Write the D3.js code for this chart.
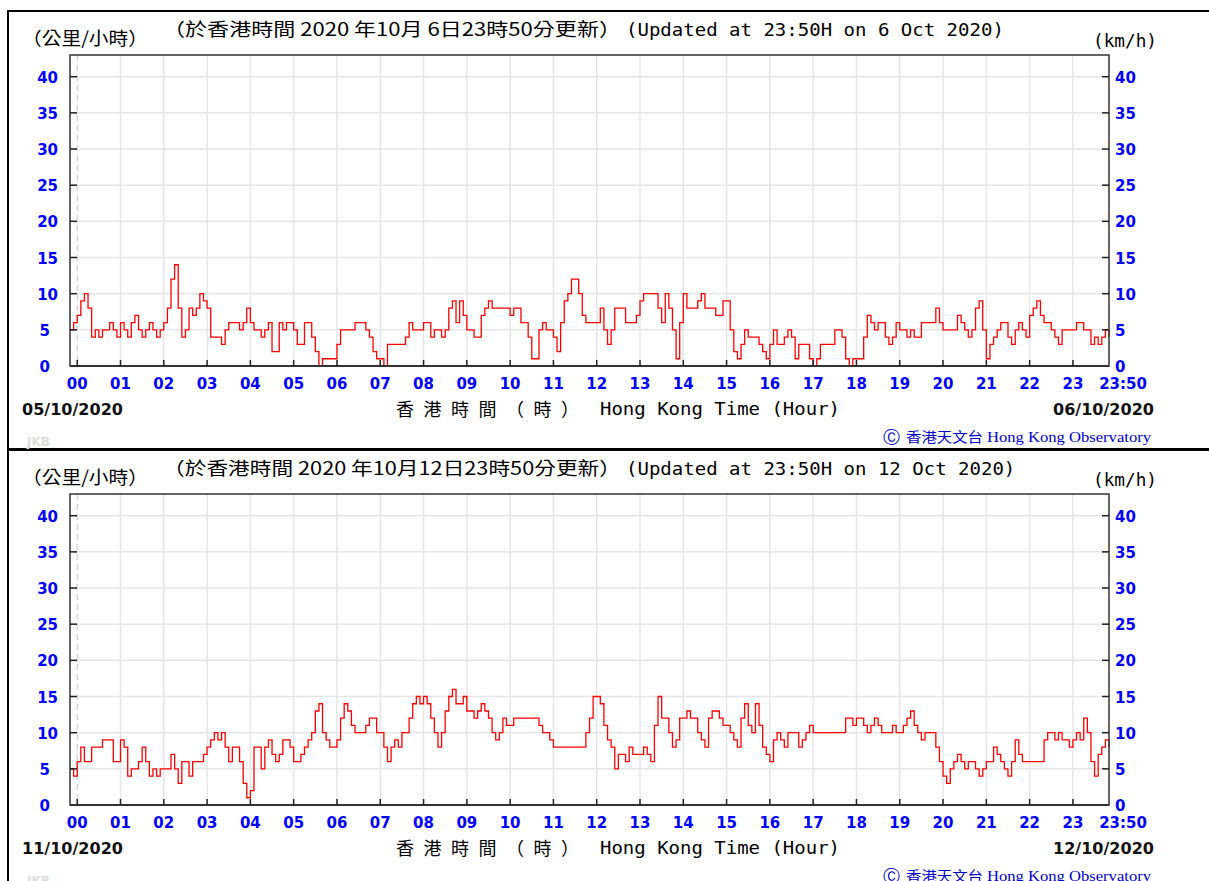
<!DOCTYPE html>
<html>
<head>
<meta charset="utf-8">
<script src="https://cdn.jsdelivr.net/npm/d3@7"></script>
<style>
  body { margin: 0; background: #fff; }
</style>
</head>
<body>
<div id="chart"></div>
<script>
const width = 1209, height = 881;

// tick labels
const hourLabels = ["00","01","02","03","04","05","06","07","08","09","10","11",
                    "12","13","14","15","16","17","18","19","20","21","22","23"];
const endLabel = "23:50";
const yTicks = [0, 5, 10, 15, 20, 25, 30, 35, 40];

// 5-minute wind speed (km/h), first value at 23:50 of the previous day
const speedOct6 = [
  5, 6, 7, 9,10, 8, 4, 5, 4, 5,   5, 6, 5, 4, 6, 5, 4, 6, 7, 5,
  4, 5, 6, 5, 4, 5, 6, 8,12,14,   8, 4, 5, 8, 7, 8,10, 9, 8, 4,
  4, 4, 3, 5, 6, 6, 6, 5, 6, 8,   6, 5, 5, 4, 5, 6, 2, 2, 6, 5,
  6, 6, 5, 3, 3, 6, 6, 4, 2, 0,   1, 1, 1, 1, 3, 5, 5, 5, 5, 6,
  6, 6, 5, 4, 2, 1, 1, 0, 3, 3,   3, 3, 3, 4, 6, 5, 5, 5, 6, 6,
  4, 5, 5, 4, 5, 8, 9, 6, 9, 7,   5, 5, 4, 4, 7, 8, 9, 8, 8, 8,
  8, 8, 7, 8, 8, 6, 6, 4, 1, 1,   5, 6, 5, 5, 4, 2, 6, 9,10,12,
 12,10, 7, 6, 6, 6, 6, 8, 5, 3,   5, 8, 8, 8, 6, 6, 6, 7, 9,10,
 10,10,10, 8, 6,10, 8, 5, 1, 6,  10, 8, 8, 8, 9,10, 8, 8, 8, 7,
  7, 9, 9, 5, 2, 1, 3, 5, 4, 4,   4, 3, 2, 1, 3, 5, 3, 3, 4, 5,
  4, 1, 3, 3, 3, 1, 0, 1, 3, 3,   3, 3, 5, 5, 4, 1, 0, 1, 1, 1,
  4, 7, 6, 5, 6, 6, 4, 3, 4, 6,   5, 5, 4, 5, 4, 4, 6, 6, 6, 6,
  8, 6, 5, 5, 5, 5, 7, 6, 5, 4,   5, 8, 9, 5, 1, 3, 4, 5, 6, 6,
  4, 3, 5, 6, 5, 4, 7, 8, 9, 7,   6, 6, 5, 4, 3, 5, 5, 5, 5, 6,
  6, 5, 5, 3, 4, 3, 4, 5, 4
];
const speedOct12 = [
  5, 4, 6, 8, 6, 6, 8, 8, 8, 9,   9, 9, 6, 6, 9, 8, 4, 5, 5, 6,
  8, 6, 4, 5, 4, 5, 5, 5, 7, 5,   3, 6, 6, 4, 6, 6, 6, 7, 8, 9,
 10, 9,10, 8, 6, 8, 8, 6, 3, 1,   2, 8, 8, 5, 8, 9, 7, 6, 7, 9,
  9, 8, 6, 6, 7, 8, 9,10,13,14,  10, 9, 8, 8, 9,12,14,13,11,10,
 10,10,11,12,12,10,10, 8, 6, 8,   9, 8,10,10,12,14,15,14,15,14,
 12,10, 8,10,13,15,16,14,14,15,  13,13,12,13,14,13,12,10, 9,10,
 12,11,11,12,12,12,12,12,12,12,  11,10,10, 9, 8, 8, 8, 8, 8, 8,
  8, 8, 8,10,12,15,15,14,11, 9,   8, 5, 7, 7, 6, 8, 7, 7, 7, 8,
  7, 6,11,15,12,12,10, 8, 9,12,  12,13,12,12,10, 9, 8,12,13,13,
 12,11,11,10, 9, 8,12,14,11,10,  14,11, 8, 7, 6, 9,10, 9, 8,10,
 10,10, 8, 9,10,11,10,10,10,10,  10,10,10,10,10,12,12,11,12,12,
 11,10,11,12,11,10,10,10,11,10,  10,11,12,13,11,10, 9,10,10,10,
  8, 6, 4, 3, 5, 6, 7, 6, 5, 6,   6, 5, 4, 5, 6, 6, 8, 7, 6, 5,
  4, 6, 9, 7, 6, 6, 6, 6, 6, 6,   9,10,10, 9,10, 9, 9, 8, 9,10,
  9,12,10, 6, 4, 7, 8, 9, 8
];

const panels = [
  {offset: 0, values: speedOct6,
   cnTitle: "（於香港時間 2020 年10月 6日23時50分更新）",
   enTitle: "(Updated at 23:50H on 6 Oct 2020)",
   startDate: "05/10/2020", endDate: "06/10/2020"},
  {offset: 439, values: speedOct12,
   cnTitle: "（於香港時間 2020 年10月12日23時50分更新）",
   enTitle: "(Updated at 23:50H on 12 Oct 2020)",
   startDate: "11/10/2020", endDate: "12/10/2020"}
];

const blue = "#0000ff";
const boldFont = "'DejaVu Sans', Verdana, sans-serif";
const cjkFont = "'Noto Sans CJK TC', 'Noto Sans CJK SC', sans-serif";
const monoFont = "'DejaVu Sans Mono', 'Liberation Mono', monospace";

const svg = d3.select("#chart").append("svg")
  .attr("width", width)
  .attr("height", height)
  .style("display", "block");

svg.append("rect").attr("width", width).attr("height", height).attr("fill", "#fff");

// minutes from midnight, plot starts at 23:50 of the previous day
const x = d3.scaleLinear().domain([-10, 1430]).range([70, 1109]);
const y = d3.scaleLinear().domain([0, 43]).range([366, 55]);

function drawPanel(p) {
  const g = svg.append("g").attr("transform", `translate(0,${p.offset})`);

  // outer frame
  g.append("rect")
    .attr("x", 8).attr("y", 11)
    .attr("width", 1230).attr("height", 438)
    .attr("fill", "none").attr("stroke", "#000").attr("stroke-width", 2);

  // grid
  g.append("g").selectAll("line")
    .data(yTicks.filter(d => d > 0))
    .join("line")
      .attr("x1", x.range()[0]).attr("x2", x.range()[1])
      .attr("y1", d => y(d)).attr("y2", d => y(d))
      .attr("stroke", "#e6e6e6").attr("stroke-width", 1.5);

  g.append("g").selectAll("line")
    .data(d3.range(1, 24))
    .join("line")
      .attr("x1", d => x(d * 60)).attr("x2", d => x(d * 60))
      .attr("y1", y.range()[1]).attr("y2", y.range()[0])
      .attr("stroke", "#e6e6e6").attr("stroke-width", 1.5);

  // midnight marker
  g.append("line")
    .attr("x1", x(0)).attr("x2", x(0))
    .attr("y1", y.range()[1]).attr("y2", y.range()[0])
    .attr("stroke", "#d0d0d0").attr("stroke-width", 1.2)
    .attr("stroke-dasharray", "6,4");

  // wind line
  const pts = p.values.map((v, i) => [-10 + i * 5, v]);
  g.append("path")
    .datum(pts)
    .attr("fill", "none")
    .attr("stroke", "#ff0000")
    .attr("stroke-width", 1.3)
    .attr("d", d3.line()
      .x(d => x(d[0]))
      .y(d => y(d[1]))
      .curve(d3.curveStepAfter));

  // plot frame
  g.append("rect")
    .attr("x", x.range()[0]).attr("y", y.range()[1])
    .attr("width", x.range()[1] - x.range()[0])
    .attr("height", y.range()[0] - y.range()[1])
    .attr("fill", "none").attr("stroke", "#333").attr("stroke-width", 1.5);
  g.append("line")
    .attr("x1", x.range()[0]).attr("x2", x.range()[1])
    .attr("y1", y(0)).attr("y2", y(0))
    .attr("stroke", "#333").attr("stroke-width", 2.2);

  // tick marks (inside)
  g.append("g").selectAll("line")
    .data(d3.range(0, 24))
    .join("line")
      .attr("x1", d => x(d * 60)).attr("x2", d => x(d * 60))
      .attr("y1", y(0)).attr("y2", y(0) - 6)
      .attr("stroke", "#222").attr("stroke-width", 1.5);
  g.append("g").selectAll("line")
    .data(yTicks.filter(d => d > 0))
    .join("line")
      .attr("x1", x.range()[0]).attr("x2", x.range()[0] + 7)
      .attr("y1", d => y(d)).attr("y2", d => y(d))
      .attr("stroke", "#222").attr("stroke-width", 1.5);
  g.append("g").selectAll("line")
    .data(yTicks.filter(d => d > 0))
    .join("line")
      .attr("x1", x.range()[1] - 7).attr("x2", x.range()[1])
      .attr("y1", d => y(d)).attr("y2", d => y(d))
      .attr("stroke", "#222").attr("stroke-width", 1.5);

  // y labels
  g.append("g").selectAll("text")
    .data(yTicks)
    .join("text")
      .attr("x", d => d >= 10 ? 58 : 50)
      .attr("y", d => y(d) + 6)
      .attr("text-anchor", "end")
      .attr("font-family", boldFont).attr("font-weight", "bold")
      .attr("font-size", 15).attr("fill", blue)
      .text(d => d);
  g.append("g").selectAll("text")
    .data(yTicks)
    .join("text")
      .attr("x", 1115)
      .attr("y", d => y(d) + 6)
      .attr("font-family", boldFont).attr("font-weight", "bold")
      .attr("font-size", 15).attr("fill", blue)
      .text(d => d);

  // x labels
  g.append("g").selectAll("text")
    .data(hourLabels)
    .join("text")
      .attr("x", (d, i) => x(i * 60))
      .attr("y", 389)
      .attr("text-anchor", "middle")
      .attr("font-family", boldFont).attr("font-weight", "bold")
      .attr("font-size", 15).attr("fill", blue)
      .text(d => d);
  g.append("text")
    .attr("x", x(1430) + 14).attr("y", 389)
    .attr("text-anchor", "middle")
    .attr("font-family", boldFont).attr("font-weight", "bold")
    .attr("font-size", 15).attr("fill", blue)
    .text(endLabel);

  // titles
  g.append("text")
    .attr("x", 22).attr("y", 45)
    .attr("font-family", cjkFont).attr("font-size", 18)
    .attr("textLength", 126).attr("lengthAdjust", "spacingAndGlyphs")
    .text("（公里/小時）");
  g.append("text")
    .attr("x", 163).attr("y", 36)
    .attr("font-family", cjkFont).attr("font-size", 18)
    .attr("textLength", 458).attr("lengthAdjust", "spacingAndGlyphs")
    .text(p.cnTitle);
  g.append("text")
    .attr("x", 626).attr("y", 36)
    .attr("font-family", monoFont).attr("font-size", 17)
    .attr("textLength", p.enTitle.length * 11.45).attr("lengthAdjust", "spacingAndGlyphs")
    .text(p.enTitle);
  g.append("text")
    .attr("x", 1093).attr("y", 47)
    .attr("font-family", monoFont).attr("font-size", 17)
    .attr("textLength", 64).attr("lengthAdjust", "spacingAndGlyphs")
    .text("(km/h)");

  // axis title
  g.append("text")
    .attr("x", 396).attr("y", 416)
    .attr("font-family", cjkFont).attr("font-size", 18)
    .attr("textLength", 183).attr("lengthAdjust", "spacing")
    .text("香港時間（時）");
  g.append("text")
    .attr("x", 600).attr("y", 415)
    .attr("font-family", monoFont).attr("font-size", 17)
    .attr("textLength", 240).attr("lengthAdjust", "spacingAndGlyphs")
    .text("Hong Kong Time (Hour)");

  // dates
  g.append("text")
    .attr("x", 22).attr("y", 415)
    .attr("font-family", boldFont).attr("font-weight", "bold")
    .attr("font-size", 15.5).attr("fill", "#111")
    .attr("textLength", 101).attr("lengthAdjust", "spacingAndGlyphs")
    .text(p.startDate);
  g.append("text")
    .attr("x", 1053).attr("y", 415)
    .attr("font-family", boldFont).attr("font-weight", "bold")
    .attr("font-size", 15.5).attr("fill", "#111")
    .attr("textLength", 101).attr("lengthAdjust", "spacingAndGlyphs")
    .text(p.endDate);

  // credits
  g.append("text")
    .attr("x", 27).attr("y", 446)
    .attr("font-family", boldFont).attr("font-weight", "bold")
    .attr("font-size", 12).attr("fill", "#dcdcdc")
    .text("JKB");
  g.append("text")
    .attr("x", 883).attr("y", 443)
    .attr("font-family", "'DejaVu Sans', sans-serif").attr("font-size", 17)
    .attr("fill", "#0000cc")
    .text("Ⓒ");
  g.append("text")
    .attr("x", 906).attr("y", 442)
    .attr("font-family", cjkFont).attr("font-size", 14)
    .attr("fill", "#0000cc")
    .attr("textLength", 77).attr("lengthAdjust", "spacingAndGlyphs")
    .text("香港天文台");
  g.append("text")
    .attr("x", 987).attr("y", 442)
    .attr("font-family", "'Liberation Serif', 'DejaVu Serif', serif").attr("font-size", 15.5)
    .attr("fill", "#0000cc")
    .attr("textLength", 164).attr("lengthAdjust", "spacingAndGlyphs")
    .text("Hong Kong Observatory");
}

panels.forEach(drawPanel);
</script>
</body>
</html>
